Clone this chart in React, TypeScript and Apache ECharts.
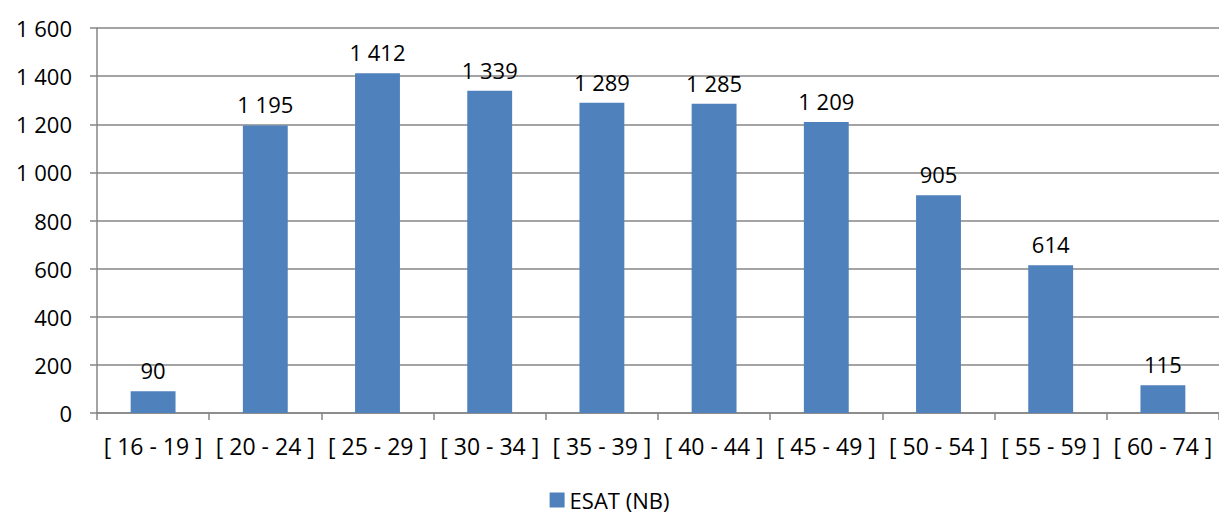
import React, { useEffect, useRef } from "react";
import * as echarts from "echarts";

const categories = ["[ 16 - 19 ]", "[ 20 - 24 ]", "[ 25 - 29 ]", "[ 30 - 34 ]", "[ 35 - 39 ]", "[ 40 - 44 ]", "[ 45 - 49 ]", "[ 50 - 54 ]", "[ 55 - 59 ]", "[ 60 - 74 ]"];
const values = [90, 1195, 1412, 1339, 1289, 1285, 1209, 905, 614, 115];
const seriesName = "ESAT (NB)";

const fmt = (v: number) => String(v).replace(/\B(?=(\d{3})+(?!\d))/g, " ");

export default function App() {
  const ref = useRef<HTMLDivElement>(null);
  useEffect(() => {
    const chart = echarts.init(ref.current!, null, { renderer: "svg" });
    const font = "'Open Sans', 'Liberation Sans', sans-serif";
    chart.setOption({
      animation: false,
      textStyle: { fontFamily: font },
      grid: { left: 97, right: 0, top: 28, bottom: 101, containLabel: false },
      legend: {
        top: 489,
        left: "center",
        padding: 0,
        itemWidth: 15,
        itemHeight: 15,
        itemGap: 6,
        icon: "rect",
        textStyle: { fontSize: 22, color: "#000", fontFamily: font, lineHeight: 22 },
        data: [seriesName],
      },
      xAxis: {
        type: "category",
        data: categories,
        axisLine: { lineStyle: { color: "#868686", width: 1.5 } },
        axisTick: { show: true, length: 7, lineStyle: { color: "#868686", width: 1.5 } },
        axisLabel: { fontSize: 23, color: "#000", margin: 21, interval: 0, fontFamily: font },
      },
      yAxis: {
        type: "value",
        min: 0,
        max: 1600,
        interval: 200,
        axisLine: { show: true, lineStyle: { color: "#868686", width: 1.5 } },
        axisTick: { show: true, length: 7, lineStyle: { color: "#868686", width: 1.5 } },
        splitLine: { lineStyle: { color: "#868686", width: 1.5 } },
        axisLabel: { fontSize: 22, color: "#000", margin: 25, formatter: (v: number) => fmt(v), fontFamily: font },
      },
      series: [
        {
          name: seriesName,
          type: "bar",
          data: values,
          barWidth: "40%",
          itemStyle: { color: "#4F81BD" },
          label: {
            show: true,
            position: "top",
            distance: 10,
            fontSize: 22,
            color: "#000",
            fontFamily: font,
            formatter: (p: any) => fmt(p.value),
          },
        },
      ],
    });
    return () => chart.dispose();
  }, []);
  return <div ref={ref} style={{ position: "absolute", top: 0, left: 0, width: 1219, height: 514 }} />;
}
